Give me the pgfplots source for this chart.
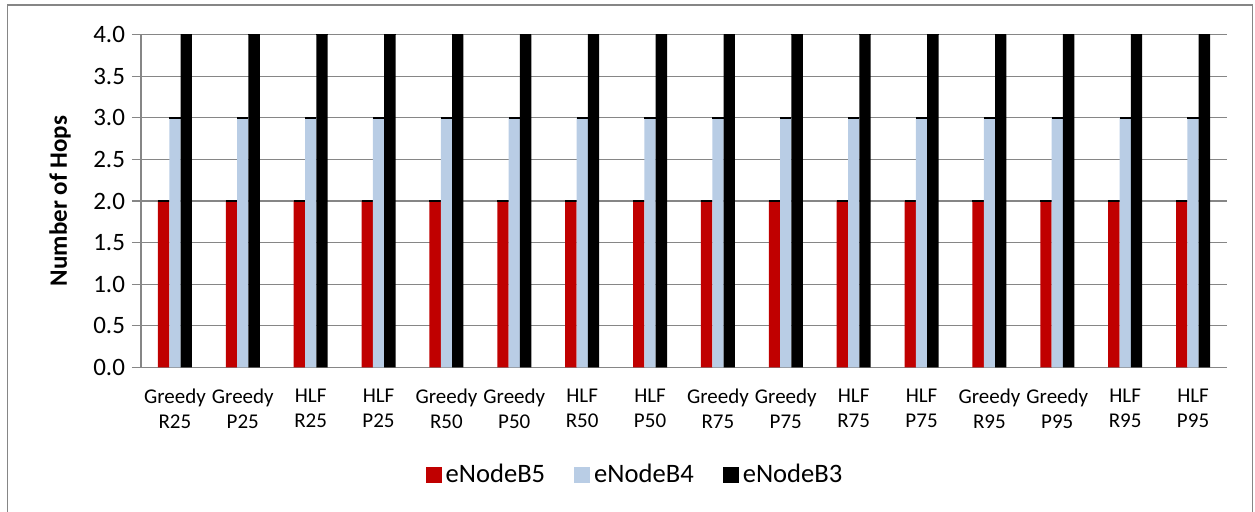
\documentclass[border=0pt]{standalone}
\usepackage{pgfplots}
\pgfplotsset{compat=1.18}
\usepackage{fontspec}
\setmainfont{Carlito}
\definecolor{barred}{RGB}{192,0,0}
\definecolor{barblue}{RGB}{185,205,229}
\definecolor{gridgray}{RGB}{134,134,134}

\begin{document}
\begin{tikzpicture}
\useasboundingbox (0,0) rectangle (627.5pt,256pt);
\draw[gridgray, line width=0.75pt] (3.75pt,-1pt) -- (3.75pt,253.5pt) -- (626.3pt,253.5pt) -- (626.3pt,-1pt);
\begin{axis}[
  at={(70.5pt,72.25pt)}, anchor=south west,
  scale only axis, width=543pt, height=166.5pt,
  ybar=0pt, bar width=5.65pt,
  xmin=-0.5, xmax=15.5, ymin=0, ymax=4,
  xtick={0,...,15},
  xticklabels={Greedy\\R25, Greedy\\P25, HLF\\R25, HLF\\P25,
               Greedy\\R50, Greedy\\P50, HLF\\R50, HLF\\P50,
               Greedy\\R75, Greedy\\P75, HLF\\R75, HLF\\P75,
               Greedy\\R95, Greedy\\P95, HLF\\R95, HLF\\P95},
  xticklabel style={align=center, font=\fontsize{10.5}{12.5}\selectfont, yshift=-2.5pt},
  xtick style={draw=none},
  ytick={0,0.5,...,4},
  yticklabel style={/pgf/number format/fixed, /pgf/number format/fixed zerofill,
    /pgf/number format/precision=1, /pgf/number format/assume math mode=true,
    font=\fontsize{12.5}{15}\selectfont},
  ytick style={gridgray, line width=0.6pt},
  tick align=outside, major tick length=4.5pt,
  ymajorgrids, grid style={gridgray, line width=0.6pt},
  axis x line*=bottom, axis y line*=left,
  axis line style={gridgray, line width=0.75pt},
  ylabel={\textbf{Number of Hops}},
  every axis y label/.style={at={(axis description cs:-0.0746,0.5)}, rotate=90, anchor=center, font=\fontsize{12.5}{15}\selectfont},
  error bars/y dir=plus, error bars/y explicit,
  error bars/error mark=|,
  error bars/error mark options={black, mark size=2.825pt, line width=0.9pt},
  legend style={at={(axis description cs:0.4558,-0.3228)}, anchor=center, draw=none,
    legend columns=3, font=\fontsize{13.3}{16}\selectfont,
    /tikz/every even column/.append style={column sep=12.5pt}},
  legend image code/.code={\fill[#1] (0pt,-4pt) rectangle (8pt,4pt);},
]
\addplot[fill=barred, draw=none] coordinates {
  (0,2) +- (0,0) (1,2) +- (0,0) (2,2) +- (0,0) (3,2) +- (0,0)
  (4,2) +- (0,0) (5,2) +- (0,0) (6,2) +- (0,0) (7,2) +- (0,0)
  (8,2) +- (0,0) (9,2) +- (0,0) (10,2) +- (0,0) (11,2) +- (0,0)
  (12,2) +- (0,0) (13,2) +- (0,0) (14,2) +- (0,0) (15,2) +- (0,0)};
\addplot[fill=barblue, draw=none] coordinates {
  (0,3) +- (0,0) (1,3) +- (0,0) (2,3) +- (0,0) (3,3) +- (0,0)
  (4,3) +- (0,0) (5,3) +- (0,0) (6,3) +- (0,0) (7,3) +- (0,0)
  (8,3) +- (0,0) (9,3) +- (0,0) (10,3) +- (0,0) (11,3) +- (0,0)
  (12,3) +- (0,0) (13,3) +- (0,0) (14,3) +- (0,0) (15,3) +- (0,0)};
\addplot[fill=black, draw=none] coordinates {
  (0,4) +- (0,0) (1,4) +- (0,0) (2,4) +- (0,0) (3,4) +- (0,0)
  (4,4) +- (0,0) (5,4) +- (0,0) (6,4) +- (0,0) (7,4) +- (0,0)
  (8,4) +- (0,0) (9,4) +- (0,0) (10,4) +- (0,0) (11,4) +- (0,0)
  (12,4) +- (0,0) (13,4) +- (0,0) (14,4) +- (0,0) (15,4) +- (0,0)};
\legend{eNodeB5, eNodeB4, eNodeB3}
\end{axis}
\end{tikzpicture}
\end{document}
